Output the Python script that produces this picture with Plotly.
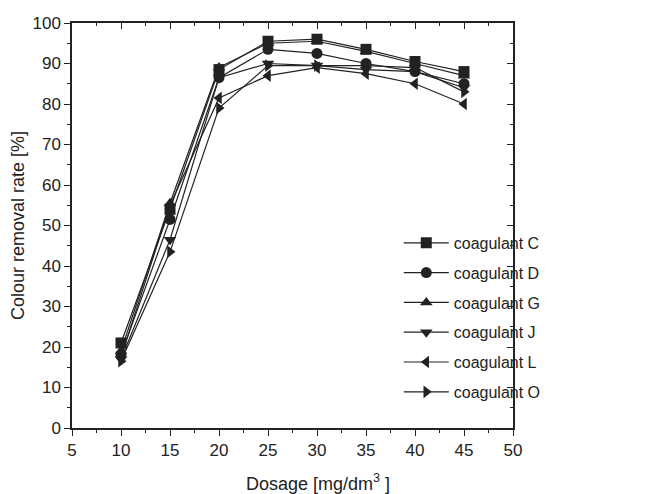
import plotly.graph_objects as go

dosage = [10, 15, 20, 25, 30, 35, 40, 45]
names = ["coagulant C", "coagulant D", "coagulant G", "coagulant J", "coagulant L", "coagulant O"]
coag_C = [21.0, 54.0, 88.5, 95.5, 96.0, 93.5, 90.5, 88.0]
coag_D = [18.0, 51.5, 86.5, 93.5, 92.5, 90.0, 88.0, 85.0]
coag_G = [19.0, 55.5, 89.0, 95.0, 95.5, 93.0, 90.0, 87.0]
coag_J = [17.0, 46.5, 86.5, 90.0, 89.5, 88.5, 88.0, 84.0]
coag_L = [17.5, 55.0, 81.5, 87.0, 89.0, 87.5, 85.0, 80.0]
coag_O = [16.5, 43.5, 79.0, 89.5, 89.5, 89.5, 89.0, 83.0]
series = [coag_C, coag_D, coag_G, coag_J, coag_L, coag_O]
symbols = ["square", "circle", "triangle-up", "triangle-down", "triangle-left", "triangle-right"]

col = "#222222"
fig = go.Figure()
for nm, vals, sym in zip(names, series, symbols):
    fig.add_trace(go.Scatter(
        x=dosage, y=vals, name=nm, mode="lines+markers", legendgroup=nm,
        line=dict(color=col, width=1.2),
        marker=dict(symbol=sym, size=11, color=col),
    ))

# invisible trace to activate mirror axes with inside ticks
fig.add_trace(go.Scatter(x=[5], y=[0], xaxis="x2", yaxis="y2", mode="markers",
                         marker=dict(opacity=0), showlegend=False, hoverinfo="skip"))

font = dict(family="Liberation Sans, Arial, sans-serif", size=17, color="#222222")
fig.update_layout(
    width=658, height=494,
    margin=dict(l=64, r=153, t=15, b=74),
    paper_bgcolor="white", plot_bgcolor="white",
    font=font,
    showlegend=True,
    legend=dict(x=0.741, y=0.499, xanchor="left", yanchor="top", traceorder="grouped",
                bgcolor="rgba(0,0,0,0)", font=dict(size=16), tracegroupgap=6,
                itemwidth=45),
    xaxis=dict(range=[5, 50], tickmode="linear", tick0=5, dtick=5,
               ticks="outside", ticklen=6, tickwidth=1, tickcolor=col,
               minor=dict(ticks="outside", ticklen=3, dtick=2.5, tickcolor=col),
               showline=True, linecolor=col, linewidth=1.5, showgrid=False, zeroline=False,
               automargin=False),
    yaxis=dict(range=[0, 100], tickmode="linear", tick0=0, dtick=10,
               ticks="outside", ticklen=6, tickwidth=1, tickcolor=col,
               minor=dict(ticks="outside", ticklen=3, dtick=5, tickcolor=col),
               showline=True, linecolor=col, linewidth=1.5, showgrid=False, zeroline=False,
               automargin=False,
               title=dict(text="Colour removal rate [%]", standoff=8, font=dict(size=18))),
    xaxis2=dict(range=[5, 50], overlaying="x", side="top", tickmode="linear", tick0=5, dtick=5,
                ticks="inside", ticklen=6, tickcolor=col, showticklabels=False,
                minor=dict(ticks="inside", ticklen=3, dtick=2.5, tickcolor=col),
                showline=True, linecolor=col, linewidth=1.5, showgrid=False, zeroline=False),
    yaxis2=dict(range=[0, 100], overlaying="y", side="right", tickmode="linear", tick0=0, dtick=10,
                ticks="inside", ticklen=6, tickcolor=col, showticklabels=False,
                minor=dict(ticks="inside", ticklen=3, dtick=5, tickcolor=col),
                showline=True, linecolor=col, linewidth=1.5, showgrid=False, zeroline=False),
    annotations=[dict(text="Dosage [mg/dm<sup>3</sup> ]", xref="paper", yref="paper",
                      x=0.558, y=-0.135, xanchor="center", yanchor="middle",
                      showarrow=False, font=dict(size=18))],
)
fig.write_html("out.html")
